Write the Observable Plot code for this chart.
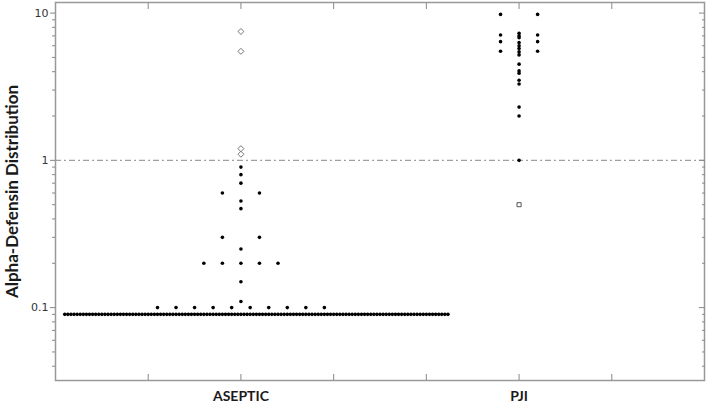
<!DOCTYPE html>
<html><head><meta charset="utf-8">
<script src="https://cdn.jsdelivr.net/npm/d3@7"></script>
<script src="https://cdn.jsdelivr.net/npm/@observablehq/plot@0.6"></script>
<style>body{margin:0;background:#fff}</style>
</head><body><div id="chart"></div>
<script>
// ---- data ----
const groups = ["ASEPTIC", "PJI"];
const asepticValues = [0.9, 0.8, 0.7, 0.6, 0.53, 0.47, 0.3, 0.25, 0.2, 0.15, 0.11, 0.1, 0.09];
const asepticCounts = [1, 1, 1, 2, 1, 1, 2, 1, 5, 1, 1, 10, 125];
const asepticOutliers = [7.5, 5.5, 1.2, 1.1];
const pjiValues = [9.8, 7.3, 7.1, 7.0, 6.8, 6.4, 6.3, 6.0, 5.75, 5.5, 5.45, 5.2, 4.5, 4.05, 3.9, 3.5, 3.3, 2.3, 2.0, 1.0];
const pjiCounts = [2, 1, 2, 1, 1, 2, 1, 1, 1, 2, 1, 1, 1, 1, 1, 1, 1, 1, 1, 1];
const pjiOutliers = [0.5];
const majorTicks = [0.1, 1, 10];
const tickLabels = ["0.1", "1", "10"];
const minorTicks = [0.04, 0.05, 0.06, 0.07, 0.08, 0.09, 0.2, 0.3, 0.4, 0.5, 0.6, 0.7, 0.8, 0.9, 2, 3, 4, 5, 6, 7, 8, 9];
const categoryTicks = [1, 2, 3, 4, 5, 6];
const referenceLine = [1];

// ---- layout (dot-plot arrangement, computed) ----
const center = {ASEPTIC: 2, PJI: 5};
const step = 0.2, tightStep = step / 6, leftStop = 0.086;
function offsets(n, c) {
  if (n === 1) return [0];
  if (n === 2) return [-step, step];
  if ((n - 1) * step <= 2) return d3.range(n).map(i => (i - (n - 1) / 2) * step);
  const leftMax = Math.floor((c - leftStop) / tightStep);
  const out = [0];
  let l = 0, r = 0;
  while (out.length < n) {
    if (r <= l || l >= leftMax) { r++; out.push(r * tightStep); }
    else { l++; out.push(-l * tightStep); }
  }
  return out;
}
const points = [];
function addRows(group, values, counts) {
  values.forEach((v, i) => offsets(counts[i], center[group]).forEach(o => points.push({group, value: v, x: center[group] + o})));
}
addRows("ASEPTIC", asepticValues, asepticCounts);
addRows("PJI", pjiValues, pjiCounts);
const diamonds = asepticOutliers.map(v => ({x: center.ASEPTIC, value: v}));
const squares = pjiOutliers.map(v => ({x: center.PJI, value: v}));

const axisStroke = "#888";
const blank = () => "";
const chart = Plot.plot({
  width: 708, height: 407,
  marginLeft: 55, marginRight: 4, marginTop: 2, marginBottom: 27,
  x: {domain: [0, 7], axis: null},
  y: {type: "log", domain: [0.032, 11.8], axis: null},
  style: {fontFamily: "DejaVu Sans", fontSize: "11px", color: "#333", background: "#fff"},
  marks: [
    Plot.ruleY(referenceLine, {stroke: "#a0a0a0", strokeWidth: 1.2, strokeDasharray: "6,3,2,3"}),
    Plot.frame({stroke: "#999", strokeWidth: 1.5}),
    Plot.axisY({anchor: "left", ticks: majorTicks, tickSize: 5, tickPadding: 2,
      tickFormat: d => tickLabels[majorTicks.indexOf(d)], label: null, stroke: axisStroke, fill: "#333"}),
    Plot.axisY({anchor: "left", ticks: minorTicks, tickSize: 3, tickFormat: blank, label: null, stroke: axisStroke}),
    Plot.axisY({anchor: "right", ticks: majorTicks, tickSize: -6, tickFormat: blank, label: null, stroke: axisStroke}),
    Plot.axisY({anchor: "right", ticks: minorTicks, tickSize: -3, tickFormat: blank, label: null, stroke: axisStroke}),
    Plot.axisY({anchor: "left", ticks: [], tickSize: 0, label: "Alpha-Defensin Distribution", labelAnchor: "center",
      labelArrow: "none", labelOffset: 50, fontFamily: "Lato", fontWeight: "bold", fontSize: 17, fill: "#1a1a1a"}),
    Plot.axisX({anchor: "bottom", ticks: categoryTicks, tickSize: -6, tickFormat: blank, label: null, stroke: axisStroke}),
    Plot.axisX({anchor: "top", ticks: categoryTicks, tickSize: -6, tickFormat: blank, label: null, stroke: axisStroke}),
    Plot.axisX({anchor: "bottom", ticks: [center.ASEPTIC, center.PJI], tickSize: 0, tickPadding: 11,
      tickFormat: d => groups[[center.ASEPTIC, center.PJI].indexOf(d)], label: null,
      fontFamily: "Lato", fontWeight: "bold", fontSize: 14, fill: "#1a1a1a"}),
    Plot.dot(points, {x: "x", y: "value", r: 1.8, fill: "#000"}),
    Plot.dot(diamonds, {x: "x", y: "value", symbol: "diamond2", r: 2.7, stroke: "#777", strokeWidth: 1}),
    Plot.dot(squares, {x: "x", y: "value", symbol: "square2", r: 2.6, stroke: "#555", strokeWidth: 1})
  ]
});
document.getElementById("chart").append(chart);
</script>
</body></html>
